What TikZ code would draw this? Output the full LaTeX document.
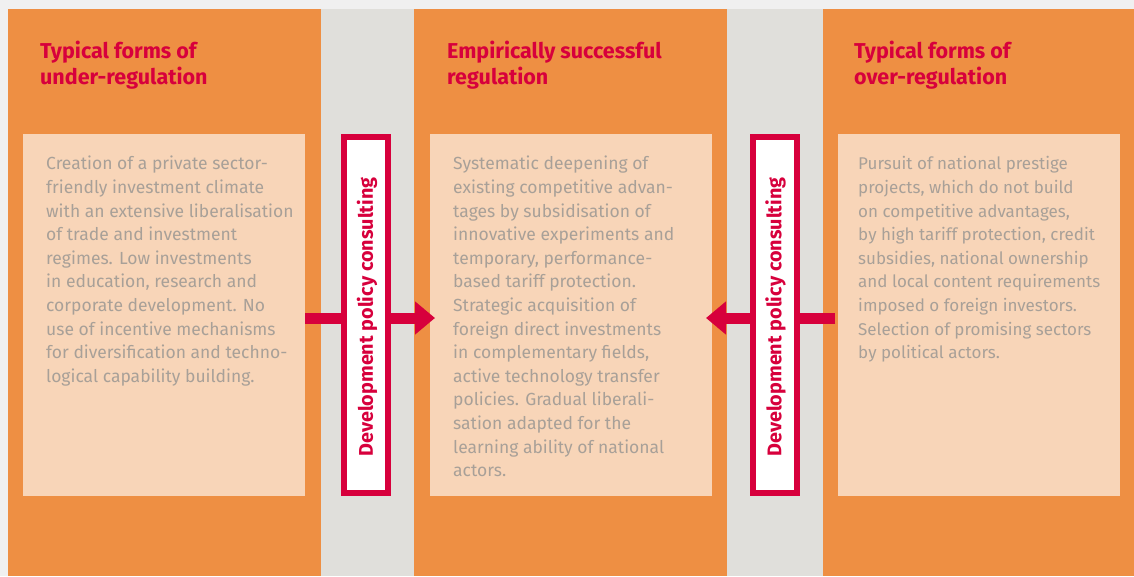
\documentclass[tikz,border=0pt]{standalone}
\usepackage{fontspec}
\setmainfont{Fira Sans}
\usetikzlibrary{arrows.meta}
\definecolor{bgstrip}{RGB}{240,240,240}
\definecolor{orangecol}{RGB}{238,143,67}
\definecolor{peach}{RGB}{248,213,184}
\definecolor{greycol}{RGB}{224,223,219}
\definecolor{redcol}{RGB}{215,0,60}
\definecolor{bodygrey}{RGB}{168,160,152}
\tikzset{
  lightbox/.style={fill=peach, draw=none, anchor=north west, minimum width=282pt, minimum height=362pt, inner sep=0pt},
  titletext/.style={anchor=north west, align=left, inner sep=0pt, text=redcol, font=\fontsize{21.5}{26}\selectfont\bfseries},
  bodytext/.style={anchor=north west, align=left, inner sep=0pt, text=bodygrey, font=\fontsize{17.5}{23.6}\selectfont},
  narrowtext/.style={bodytext, font=\fontsize{17}{23.6}\selectfont},
  consultbox/.style={draw=redcol, fill=white, line width=6pt, minimum width=44pt, minimum height=356pt, inner sep=0pt},
  consulttext/.style={rotate=90, text=redcol, font=\fontsize{19.8}{22}\selectfont\bfseries, inner sep=0pt},
  bigarrow/.style={draw=redcol, line width=11pt, -{Triangle[width=32pt,length=20pt]}}
}
\begin{document}
\begin{tikzpicture}[x=1pt,y=-1pt]
\useasboundingbox (0,0) rectangle (1134,576);
\fill[bgstrip] (0,0) rectangle (1134,576);
\fill[orangecol] (8,9) rectangle (321,576);
\fill[greycol] (321,9) rectangle (414,576);
\fill[orangecol] (414,9) rectangle (727,576);
\fill[greycol] (727,9) rectangle (823,576);
\fill[orangecol] (823,9) rectangle (1134,576);

\node[titletext] (t1) at (40,41) {Typical forms of\\under-regulation};
\node[titletext] (t2) at (447,41) {Empirically successful\\regulation};
\node[titletext] (t3) at (854,41) {Typical forms of\\over-regulation};

\node[lightbox] (lbox) at (23,134) {};
\node[lightbox] (mbox) at (430,134) {};
\node[lightbox] (rbox) at (838,134) {};

\node[bodytext] (b1) at (46,156) {Creation of a private sector-\\friendly investment climate\\with an extensive liberalisation\\of trade and investment\\regimes. Low investments\\in education, research and\\corporate development. No\\use of incentive mechanisms\\for diversification and techno-\\logical capability building.};
\node[bodytext] (b2) at (453,156) {Systematic deepening of\\existing competitive advan-\\tages by subsidisation of\\innovative experiments and\\temporary, performance-\\based tariff protection.\\Strategic acquisition of\\foreign direct investments\\in complementary fields,\\active technology transfer\\policies. Gradual liberali-\\sation adapted for the\\learning ability of national\\actors.};
\node[narrowtext] (b3) at (858,156.5) {Pursuit of national prestige\\projects, which do not build\\on competitive advantages,\\by high tariff protection, credit\\subsidies, national ownership\\and local content requirements\\imposed o foreign investors.\\Selection of promising sectors\\by political actors.};

\coordinate (la) at (lbox.east |- 0,318);
\coordinate (lt) at (435,318);
\coordinate (ra) at (835,318);
\coordinate (rt) at (706,318);
\draw[bigarrow] (la) -- (lt);
\draw[bigarrow] (ra) -- (rt);

\node[consultbox] (c1) at (366,315) {};
\node[consultbox] (c2) at (774.5,315) {};
\node[consulttext] at ([xshift=1pt,yshift=-2pt]c1) {Development policy consulting};
\node[consulttext] at ([xshift=1pt,yshift=-2pt]c2) {Development policy consulting};
\end{tikzpicture}
\end{document}
